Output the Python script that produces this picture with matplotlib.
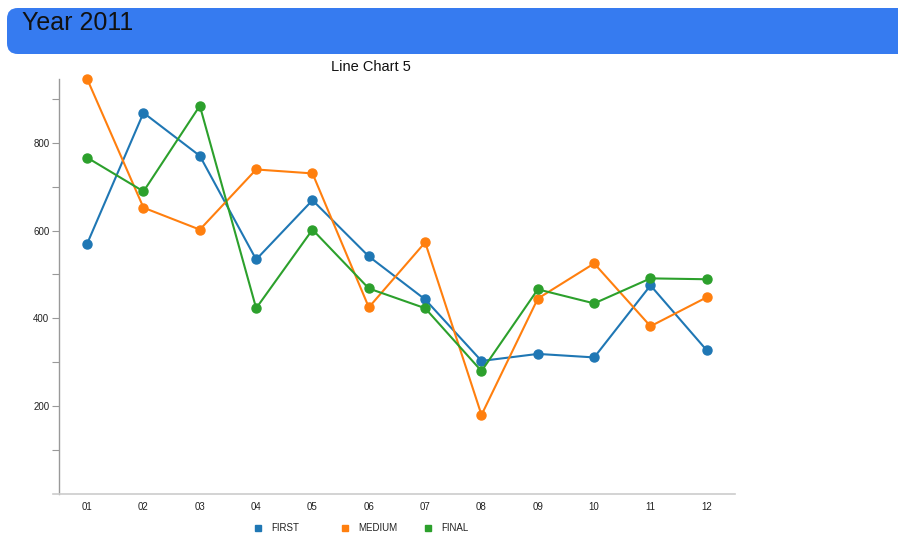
import matplotlib.pyplot as plt
from matplotlib.patches import FancyBboxPatch
from matplotlib.lines import Line2D

plt.rcParams['font.family'] = ['Liberation Sans', 'DejaVu Sans']

months = ["01", "02", "03", "04", "05", "06", "07", "08", "09", "10", "11", "12"]
first = [570, 868, 770, 534, 669, 541, 443, 303, 319, 311, 475, 327]
medium = [945, 652, 602, 739, 730, 425, 573, 180, 445, 525, 382, 448]
final = [766, 689, 884, 423, 602, 468, 423, 280, 466, 434, 491, 489]

series = [("FIRST", first, "#1f77b4"),
          ("MEDIUM", medium, "#ff7f0e"),
          ("FINAL", final, "#2ca02c")]

W, H = 898, 536
fig = plt.figure(figsize=(W / 100, H / 100), dpi=100)

# blue header bar
bar = FancyBboxPatch((7 / W, (H - 54) / H), 960 / W, 46 / H,
                     boxstyle="round,pad=0,rounding_size=0.012",
                     transform=fig.transFigure, facecolor="#367bf0",
                     edgecolor="none", mutation_aspect=W / H)
fig.patches.append(bar)
fig.text(22 / W, (H - 23) / H, "Year 2011", fontsize=18, color="#111111",
         va="center", ha="left")

# chart area
ax = fig.add_axes([53 / W, (H - 494) / H, (735 - 53) / W, (494 - 79) / H])
x = list(range(len(months)))
for name, vals, col in series:
    ax.plot(x, vals, color=col, lw=1.5, marker="o", ms=6.5, mec=col, mfc=col,
            solid_joinstyle="round", clip_on=False, zorder=3)

ax.set_xlim(-0.5 - 6 / 56.36, 11.5)
ax.set_ylim(0, max(medium))
ax.set_xticks(x)
ax.set_xticklabels(months)
ax.set_yticks([200, 400, 600, 800])
ax.set_yticks([100, 300, 500, 700, 900], minor=True)

for s in ["top", "right"]:
    ax.spines[s].set_visible(False)
ax.spines["left"].set_position(("data", -0.5))
ax.spines["left"].set_color("#999999")
ax.spines["bottom"].set_color("#cccccc")
ax.spines["left"].set_linewidth(1)
ax.spines["bottom"].set_linewidth(1.2)

ax.tick_params(axis="y", which="both", length=5, width=0.8, color="#999999",
               labelsize=7, pad=2, labelcolor="#222222")
ax.tick_params(axis="x", length=0, labelsize=7, pad=6, labelcolor="#222222")

fig.text(371 / W, (H - 67) / H, "Line Chart 5", fontsize=10.5, ha="center",
         va="center", color="#111111")

# legend: square swatch + label per series
legend_x = [258, 345, 428]
legend_y = (H - 528) / H
for lx, (name, _, col) in zip(legend_x, series):
    fig.add_artist(Line2D([lx / W], [legend_y], ls="none", marker="s", ms=5,
                          color=col, transform=fig.transFigure))
    fig.text((lx + 13) / W, legend_y, name, fontsize=7, va="center",
             ha="left", color="#222222")

fig.savefig("out.png", dpi=100)
